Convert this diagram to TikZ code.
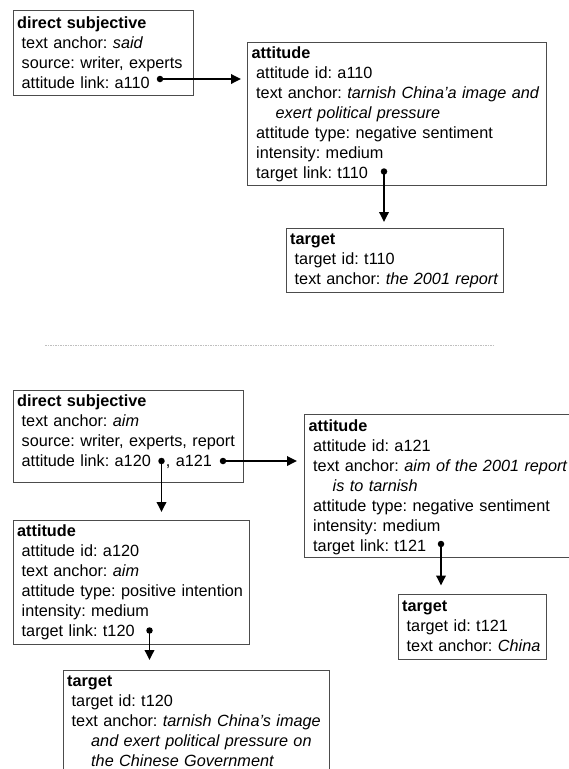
\documentclass[tikz,border=0pt]{standalone}
\usepackage{fontspec}
\setmainfont{Liberation Sans}
\usetikzlibrary{arrows.meta}

\begin{document}
\begin{tikzpicture}[x=1pt,y=-1pt,
  recbox/.style={draw=black!70, line width=0.9pt, anchor=north west, inner sep=0pt},
  txt/.style={anchor=base west, inner sep=0pt, align=left, text width=330pt,
              font=\fontsize{16.25}{20}\selectfont\frenchspacing},
  dot/.style={circle, fill=black, inner sep=0pt, minimum size=6.5pt},
  link/.style={line width=1.8pt, -{Triangle[length=10pt,width=9.5pt]}},
  sepline/.style={draw=black!25, line width=1pt, dash pattern=on 1.5pt off 1pt}]

\useasboundingbox (0,0) rectangle (569,769);
\clip (0,0) rectangle (569,769);

% ---------- first example ----------
\node[recbox, minimum width=180.5pt, minimum height=85pt] (ds1) at (12.5,10) {};
\node[txt] (ds1t) at ([xshift=4.5pt,yshift=-18pt]ds1.north west)
  {\textbf{direct subjective}\\
   \hspace*{4.5pt}text anchor: \textit{said}\\
   \hspace*{4.5pt}source: writer, experts\\
   \hspace*{4.5pt}attitude link: a110};

\node[recbox, minimum width=299pt, minimum height=143.5pt] (att1) at (247,41.5) {};
\node[txt] (att1t) at ([xshift=4.5pt,yshift=-17pt]att1.north west)
  {\textbf{attitude}\\
   \hspace*{4.5pt}attitude id: a110\\
   \hspace*{4.5pt}text anchor: \textit{tarnish China’a image and}\\
   \hspace*{24pt}\textit{exert political pressure}\\
   \hspace*{4.5pt}attitude type: negative sentiment\\
   \hspace*{4.5pt}intensity: medium\\
   \hspace*{4.5pt}target link: t110};

\node[recbox, minimum width=217pt, minimum height=64pt] (tgt1) at (285.5,227.5) {};
\node[txt] (tgt1t) at ([xshift=4.5pt,yshift=-17pt]tgt1.north west)
  {\textbf{target}\\
   \hspace*{4.5pt}target id: t110\\
   \hspace*{4.5pt}text anchor: \textit{the 2001 report}};

\node[dot] (d1) at (160,79) {};
\node[dot] (d2) at (384,171.5) {};
\draw[link, shorten >=6pt] (d1.center) -- (d1 -| att1.west);
\draw[link, shorten >=5.5pt] (d2.center) -- (d2 |- tgt1.north);

% ---------- separator ----------
\coordinate (sepL) at (45,345.5);
\coordinate (sepR) at (495,345.5);
\draw[sepline] (sepL) -- (sepR);

% ---------- second example ----------
\node[recbox, minimum width=230pt, minimum height=92pt] (ds2) at (12.5,389.5) {};
\node[txt] (ds2t) at ([xshift=4.5pt,yshift=-17pt]ds2.north west)
  {\textbf{direct subjective}\\
   \hspace*{4.5pt}text anchor: \textit{aim}\\
   \hspace*{4.5pt}source: writer, experts, report\\
   \hspace*{4.5pt}attitude link: a120\hspace*{15pt}, a121};

\node[recbox, minimum width=300pt, minimum height=143pt] (att2) at (304,414) {};
\node[txt] (att2t) at ([xshift=4.5pt,yshift=-17pt]att2.north west)
  {\textbf{attitude}\\
   \hspace*{4.5pt}attitude id: a121\\
   \hspace*{4.5pt}text anchor: \textit{aim of the 2001 report}\\
   \hspace*{24pt}\textit{is to tarnish}\\
   \hspace*{4.5pt}attitude type: negative sentiment\\
   \hspace*{4.5pt}intensity: medium\\
   \hspace*{4.5pt}target link: t121};

\node[recbox, minimum width=236pt, minimum height=124pt] (att3) at (12.5,519.5) {};
\node[txt] (att3t) at ([xshift=4.5pt,yshift=-17pt]att3.north west)
  {\textbf{attitude}\\
   \hspace*{4.5pt}attitude id: a120\\
   \hspace*{4.5pt}text anchor: \textit{aim}\\
   \hspace*{4.5pt}attitude type: positive intention\\
   \hspace*{4.5pt}intensity: medium\\
   \hspace*{4.5pt}target link: t120};

\node[recbox, minimum width=148.5pt, minimum height=64.5pt] (tgt2) at (397.5,594) {};
\node[txt] (tgt2t) at ([xshift=4.5pt,yshift=-17pt]tgt2.north west)
  {\textbf{target}\\
   \hspace*{4.5pt}target id: t121\\
   \hspace*{4.5pt}text anchor: \textit{China}};

\node[recbox, minimum width=266pt, minimum height=130pt] (tgt3) at (62.5,669.5) {};
\node[txt] (tgt3t) at ([xshift=4.5pt,yshift=-17pt]tgt3.north west)
  {\textbf{target}\\
   \hspace*{4.5pt}target id: t120\\
   \hspace*{4.5pt}text anchor: \textit{tarnish China’s image}\\
   \hspace*{24pt}\textit{and exert political pressure on}\\
   \hspace*{24pt}\textit{the Chinese Government}};

\node[dot] (d3) at (161.5,461) {};
\node[dot] (d4) at (223,461) {};
\node[dot] (d5) at (441,544) {};
\node[dot] (d6) at (149.5,630.5) {};
\draw[link, shorten >=7.5pt] (d3.center) -- (d3 |- att3.north);
\draw[link, shorten >=7pt] (d4.center) -- (d4 -| att2.west);
\draw[link, shorten >=8.5pt] (d5.center) -- (d5 |- tgt2.north);
\draw[link, shorten >=9.5pt] (d6.center) -- (d6 |- tgt3.north);

\end{tikzpicture}
\end{document}
